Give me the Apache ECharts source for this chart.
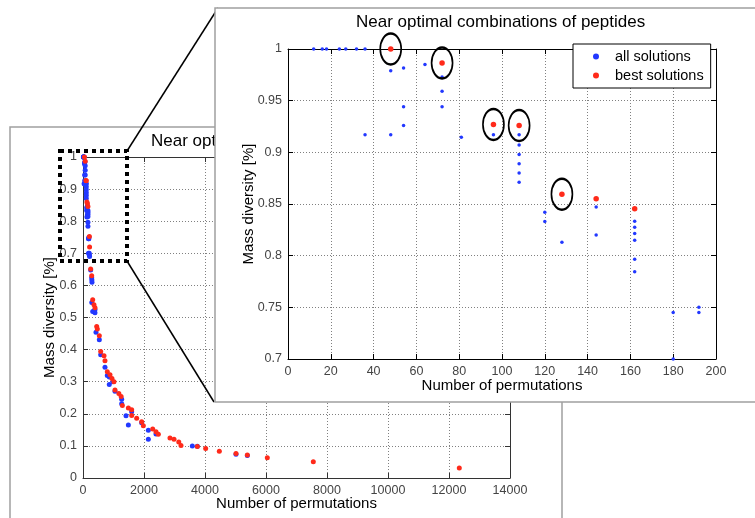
<!DOCTYPE html>
<html>
<head>
<meta charset="utf-8">
<script src="https://cdn.jsdelivr.net/npm/echarts@6/dist/echarts.min.js"></script>
<style>html,body{margin:0;padding:0;background:#fff}#c{width:755px;height:518px}</style>
</head>
<body>
<div id="c"></div>
<script>
// ---- data ----
const chartTitle = 'Near optimal combinations of peptides';
const xName = 'Number of permutations';
const yName = 'Mass diversity [%]';
const legendNames = ['all solutions', 'best solutions'];

// inset (zoomed) : all solutions
const insetAllX = [12,16,18,24,27,32,36, 48,54,64,72,72,72,54,54,36,48,81,96,108,108,108,108,108,108,120,120,128,144,144,162,162,162,162,162,162,180,180,192,192];
const insetAllY = [1,1,1,1,1,1,1, 0.979,0.9817,0.985,0.973,0.959,0.944,0.944,0.926,0.917,0.917,0.9147,0.917,0.917,0.907,0.898,0.889,0.880,0.871,0.842,0.833,0.813,0.847,0.820,0.8333,0.8275,0.8214,0.815,0.7966,0.7844,0.745,0.70,0.750,0.745];
// inset : best solutions
const insetBestX = [48,72,96,108,128,144,162];
const insetBestY = [1.0,0.9865,0.927,0.926,0.8595,0.855,0.8455];
// indices of best solutions that are circled
const circledIdx = [0,1,2,3,4];

// wide view : additional points outside the zoomed range
const wideAllX = [205,210,215,252,285,290,295,288,318,393,393,426,535,580,721,797,862,862,980,1049,1268,1268,1596,1410,1487,1924,2142,2142,2393,3585,3748,5016,5388];
const wideAllY = [0.70,0.695,0.69,0.648,0.624,0.617,0.61,0.547,0.519,0.525,0.515,0.454,0.431,0.384,0.345,0.319,0.315,0.291,0.30,0.27,0.245,0.231,0.206,0.194,0.165,0.172,0.149,0.121,0.137,0.1,0.099,0.074,0.07];
const wideBestX = [210,216,252,285,318,360,393,449,470,535,580,689,721,797,885,950,1016,1049,1175,1250,1290,1487,1596,1596,1760,1924,1978,2285,2393,2470,2852,2984,3140,3213,3748,4022,4470,5016,5388,6043,7551,12338];
const wideBestY = [0.752,0.72,0.651,0.63,0.555,0.54,0.53,0.472,0.464,0.443,0.394,0.381,0.365,0.331,0.322,0.31,0.30,0.274,0.263,0.254,0.226,0.218,0.213,0.195,0.186,0.175,0.163,0.153,0.144,0.136,0.125,0.121,0.112,0.101,0.098,0.092,0.083,0.076,0.072,0.063,0.051,0.031];

// axis ranges / ticks
const mainX = {min:0, max:14000, interval:2000};
const mainY = {min:0, max:1, interval:0.1};
const insetXR = {min:0, max:200, interval:20};
const insetYR = {min:0.7, max:1, interval:0.05};

// ---- build ----
const pairs = (xs, ys) => xs.map((x, i) => [x, ys[i]]);
const mainAll = pairs(insetAllX.concat(wideAllX), insetAllY.concat(wideAllY));
const mainBest = pairs(insetBestX.concat(wideBestX), insetBestY.concat(wideBestY));
const insetAll = pairs(insetAllX, insetAllY);
const insetBest = pairs(insetBestX, insetBestY);
const circled = circledIdx.map(i => [insetBestX[i], insetBestY[i]]);

const FONT = 'Liberation Sans, Arial, sans-serif';
const BLUE = '#2238ff', RED = '#ff2a1a';
const gridLine = {show:true, lineStyle:{color:'#808080', type:[1,2], width:1}};
const plainNum = v => String(Math.round(v * 1000) / 1000);

function axisPair(dim, range, gridIndex, z, lineColor, labelMargin, nameGap) {
  const primary = {
    type:'value', gridIndex, z, min:range.min, max:range.max, interval:range.interval,
    position: dim === 'x' ? 'bottom' : 'left',
    name: dim === 'x' ? xName : yName, nameLocation:'middle', nameGap, nameMoveOverlap:false,
    nameTextStyle:{fontFamily:FONT, fontSize:15, color:'#000'},
    axisLine:{show:true, onZero:false, lineStyle:{color:lineColor, width:1}},
    axisTick:{show:true, inside:true, length:5, lineStyle:{color:lineColor}},
    axisLabel:{show:true, margin:labelMargin, fontFamily:FONT, fontSize:12.5, color:'#444', formatter:plainNum},
    splitLine:gridLine
  };
  const secondary = {
    type:'value', gridIndex, z, min:range.min, max:range.max, interval:range.interval,
    position: dim === 'x' ? 'top' : 'right',
    axisLine:{show:true, onZero:false, lineStyle:{color:lineColor, width:1}},
    axisTick:{show:true, inside:true, length:5, lineStyle:{color:lineColor}},
    axisLabel:{show:false}, splitLine:{show:false}
  };
  return [primary, secondary];
}

const [mx0, mx1] = axisPair('x', mainX, 0, 0, '#333', 6, 18);
const [my0, my1] = axisPair('y', mainY, 0, 0, '#333', 6, 26);
const [ix0, ix1] = axisPair('x', insetXR, 1, 60, '#000', 6, 19);
const [iy0, iy1] = axisPair('y', insetYR, 1, 60, '#000', 6, 32);

const chart = echarts.init(document.getElementById('c'), null, {renderer:'canvas'});
chart.setOption({
  animation:false,
  backgroundColor:'#fff',
  title:[
    {text:chartTitle, left:151, top:133, padding:0, z:1,
     textStyle:{fontFamily:FONT, fontSize:17, fontWeight:'normal', color:'#000'}},
    {text:chartTitle, left:356, top:14, padding:0, z:60,
     textStyle:{fontFamily:FONT, fontSize:17, fontWeight:'normal', color:'#000'}}
  ],
  legend:{
    data:legendNames, orient:'vertical', left:573, top:44, z:70,
    padding:[5,7,5,20], itemGap:4, itemWidth:28, itemHeight:6, icon:'circle',
    backgroundColor:'#fff', borderColor:'#000', borderWidth:1, borderRadius:0,
    textStyle:{fontFamily:FONT, fontSize:14.5, color:'#000', lineHeight:15},
    selectedMode:false
  },
  grid:[
    {left:83, top:157, width:427, height:321, containLabel:false, outerBoundsMode:'none'},
    {left:288, top:49, width:428, height:310, z:60, containLabel:false, outerBoundsMode:'none'}
  ],
  xAxis:[mx0, mx1, ix0, ix1],
  yAxis:[my0, my1, iy0, iy1],
  graphic:[
    {type:'rect', z:0, silent:true, shape:{x:10, y:127, width:552, height:420},
     style:{fill:'none', stroke:'#a0a0a0', lineWidth:1.5}},
    {type:'line', z:40, silent:true, shape:{x1:127, y1:151, x2:218, y2:8},
     style:{stroke:'#000', lineWidth:1.5}},
    {type:'line', z:40, silent:true, shape:{x1:127, y1:261, x2:214, y2:402},
     style:{stroke:'#000', lineWidth:1.5}},
    {type:'rect', z:40, silent:true, shape:{x:60, y:151, width:67, height:110},
     style:{fill:'none', stroke:'#000', lineWidth:4, lineDash:[4,4]}},
    {type:'rect', z:50, silent:true, shape:{x:215, y:8, width:560, height:394},
     style:{fill:'#fff', stroke:'#a0a0a0', lineWidth:1.5}}
  ],
  series:[
    {name:legendNames[0], type:'scatter', xAxisIndex:0, yAxisIndex:0, data:mainAll,
     symbol:'circle', symbolSize:5, itemStyle:{color:BLUE, opacity:1}, z:2, silent:true},
    {name:legendNames[1], type:'scatter', xAxisIndex:0, yAxisIndex:0, data:mainBest,
     symbol:'circle', symbolSize:5, itemStyle:{color:RED, opacity:1}, z:3, silent:true},
    {name:legendNames[0], type:'scatter', xAxisIndex:2, yAxisIndex:2, data:insetAll,
     symbol:'circle', symbolSize:3.5, itemStyle:{color:BLUE, opacity:1}, z:61, silent:true},
    {name:legendNames[1], type:'scatter', xAxisIndex:2, yAxisIndex:2, data:insetBest,
     symbol:'circle', symbolSize:5.5, itemStyle:{color:RED, opacity:1}, z:62, silent:true},
    {name:'circled', type:'scatter', xAxisIndex:2, yAxisIndex:2, data:circled,
     symbol:'circle', symbolSize:[21,31],
     itemStyle:{color:'rgba(0,0,0,0)', borderColor:'#000', borderWidth:2, opacity:1}, z:63, silent:true}
  ]
});
</script>
</body>
</html>
